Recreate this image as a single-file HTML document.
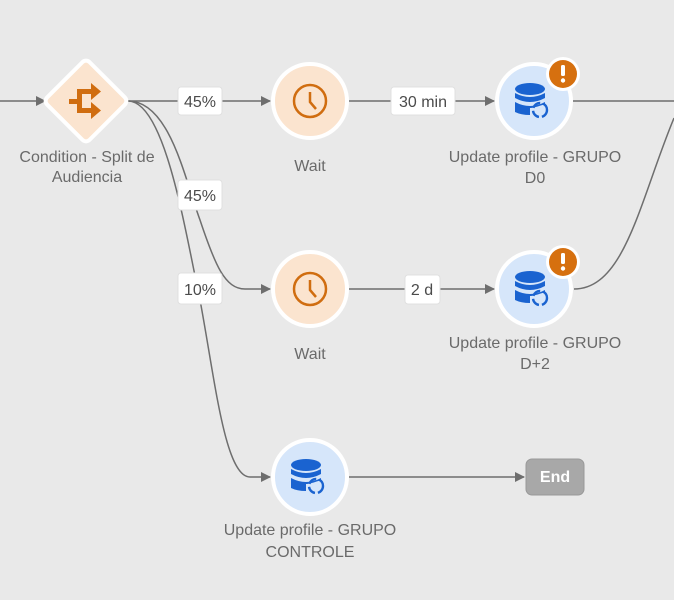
<!DOCTYPE html>
<html><head><style>
html,body{margin:0;padding:0;background:#e9e9e9;}
svg{display:block;}
text{font-family:"Liberation Sans","DejaVu Sans",sans-serif;}
</style></head><body>
<svg width="674" height="600" viewBox="0 0 674 600" xmlns="http://www.w3.org/2000/svg">
<defs>
<marker id="a" markerWidth="10" markerHeight="10" refX="9" refY="5" orient="auto" markerUnits="userSpaceOnUse">
<path d="M0,0 L10,5 L0,10 Z" fill="#6e6e6e"/></marker>
<g id="db">
<ellipse cx="0" cy="-10" rx="15" ry="6" fill="#1a63d0"/>
<path d="M-15,-6 Q0,2 15,-6 L15,-1 Q0,7 -15,-1 Z" fill="#1a63d0"/>
<path d="M-15,3 Q0,11 15,3 L15,5 Q4,9 0,9 L0,16 Q-9,16 -15,13 Z" fill="#1a63d0"/>
<circle cx="10" cy="11" r="7" fill="none" stroke="#1a63d0" stroke-width="2.4" stroke-dasharray="9 3"/>
</g>
<g id="clock">
<circle cx="0" cy="0" r="16" fill="none" stroke="#d06d10" stroke-width="2.5"/>
<path d="M0,-9 L0,1 L6,8" fill="none" stroke="#d06d10" stroke-width="2.5"/>
</g>
<g id="warn">
<circle cx="0" cy="0" r="17" fill="#fff"/>
<circle cx="0" cy="0" r="14" fill="#d6700f"/>
<rect x="-2" y="-9" width="4" height="11" rx="1.5" fill="#fff"/>
<circle cx="0" cy="6.5" r="2.2" fill="#fff"/>
</g>
</defs>
<g fill="none" stroke="#6e6e6e" stroke-width="1.5">
<path d="M0,101 L45,101" marker-end="url(#a)"/>
<path d="M128,101 L270,101" marker-end="url(#a)"/>
<path d="M349,101 L494,101" marker-end="url(#a)"/>
<path d="M573,101 L674,101"/>
<path d="M128,101 C170,101 185,180 200,220 C215,265 225,289 245,289 L270,289" marker-end="url(#a)"/>
<path d="M128,101 C165,101 185,230 200,300 C215,380 225,477 250,477 L270,477" marker-end="url(#a)"/>
<path d="M349,289 L494,289" marker-end="url(#a)"/>
<path d="M349,477 L524,477" marker-end="url(#a)"/>
<path d="M574,289 C625,289 640,200 674,118"/>
</g>
<g fill="#fff" stroke="#e0e0e0" stroke-width="1">
<rect x="178" y="87" width="44" height="28" rx="3"/>
<rect x="178" y="180" width="44" height="30" rx="3"/>
<rect x="178" y="273" width="44" height="31" rx="3"/>
<rect x="391" y="87" width="64" height="28" rx="3"/>
<rect x="405" y="275" width="35" height="29" rx="3"/>
</g>
<g font-size="16" fill="#4b4b4b" text-anchor="middle">
<text x="200" y="107">45%</text>
<text x="200" y="201">45%</text>
<text x="200" y="295">10%</text>
<text x="423" y="107">30 min</text>
<text x="422" y="295">2 d</text>
</g>
<rect x="56" y="71" width="60" height="60" rx="5" transform="rotate(45 86 101)" fill="#fbe4cf" stroke="#fff" stroke-width="4"/>
<g fill="#d06d10">
<rect x="69" y="99" width="10" height="5"/>
<rect x="77" y="90" width="5" height="23"/>
<rect x="77" y="89" width="15" height="5"/>
<rect x="77" y="108" width="15" height="5"/>
<path d="M91,83 L101,91.5 L91,100 Z"/>
<path d="M91,102 L101,110.5 L91,119 Z"/>
</g>
<g stroke="#fff" stroke-width="4">
<circle cx="310" cy="101" r="37" fill="#fbe4cf"/>
<circle cx="310" cy="289" r="37" fill="#fbe4cf"/>
<circle cx="534" cy="101" r="37" fill="#d6e6fa"/>
<circle cx="534" cy="289" r="37" fill="#d6e6fa"/>
<circle cx="310" cy="477" r="37" fill="#d6e6fa"/>
</g>
<use href="#clock" x="310" y="101"/>
<use href="#clock" x="310" y="289"/>
<use href="#db" x="530" y="99"/>
<use href="#db" x="530" y="287"/>
<use href="#db" x="306" y="475"/>
<use href="#warn" x="563" y="74"/>
<use href="#warn" x="563" y="262"/>
<rect x="526" y="459" width="58" height="36" rx="6" fill="#a8a8a8" stroke="#999" stroke-width="1"/>
<text x="555" y="482" font-size="16" font-weight="bold" fill="#fff" text-anchor="middle">End</text>
<g font-size="16" fill="#6a6a6a" text-anchor="middle">
<text x="87" y="162">Condition - Split de</text>
<text x="87" y="182">Audiencia</text>
<text x="310" y="171">Wait</text>
<text x="535" y="162">Update profile - GRUPO</text>
<text x="535" y="183">D0</text>
<text x="310" y="359">Wait</text>
<text x="535" y="348">Update profile - GRUPO</text>
<text x="535" y="369">D+2</text>
<text x="310" y="535">Update profile - GRUPO</text>
<text x="310" y="557">CONTROLE</text>
</g>
</svg>
</body></html>
